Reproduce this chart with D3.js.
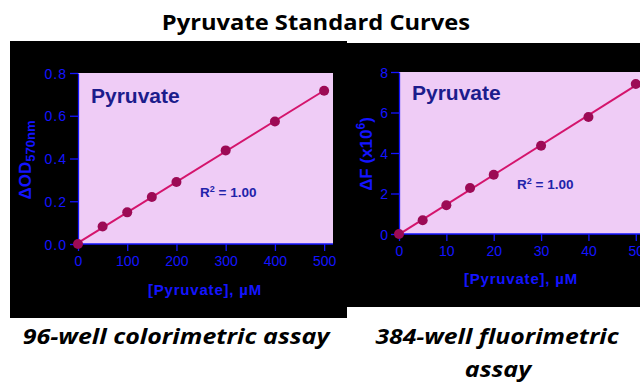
<!DOCTYPE html>
<html>
<head>
<meta charset="utf-8">
<script src="https://cdn.jsdelivr.net/npm/d3@7"></script>
<style>
    body { margin: 0; background: #fff; }
    svg { display: block; }
</style>
</head>
<body>
<div id="chart"></div>
<script>
// Colorimetric assay (96-well)
const colX = [0, 50, 100, 150, 200, 300, 400, 500];
const colY = [0, 0.082, 0.148, 0.22, 0.29, 0.438, 0.573, 0.717];
const colXTicks = [0, 100, 200, 300, 400, 500];
const colYTicks = [0, 0.2, 0.4, 0.6, 0.8];

// Fluorimetric assay (384-well), values x10^6
const fluX = [0, 5, 10, 15, 20, 30, 40, 50];
const fluY = [0, 0.68, 1.42, 2.27, 2.93, 4.36, 5.78, 7.41];
const fluXTicks = [0, 10, 20, 30, 40, 50];
const fluYTicks = [0, 2, 4, 6, 8];

const width = 640, height = 383;

const svg = d3.select("#chart").append("svg")
    .attr("width", width)
    .attr("height", height);

// helper for the slide-style texts (they look stretched sideways)
function wideText(str, cx, y, size, sx, italic) {
    svg.append("text")
        .attr("transform", `translate(${cx},${y}) scale(${sx},1)`)
        .attr("text-anchor", "middle")
        .attr("font-family", "Open Sans, sans-serif")
        .attr("font-weight", "bold")
        .attr("font-style", italic ? "italic" : "normal")
        .attr("font-size", size)
        .text(str);
}

wideText("Pyruvate Standard Curves", 316, 30, 21, 1.13, false);

// black panels behind each plot
svg.append("rect").attr("x", 10).attr("y", 41).attr("width", 337).attr("height", 277).attr("fill", "#000");
svg.append("rect").attr("x", 347).attr("y", 43).attr("width", 293).attr("height", 264).attr("fill", "#000");

function drawPlot(cfg) {
    const x = d3.scaleLinear().domain(cfg.xDomain).range([cfg.left, cfg.right]);
    const y = d3.scaleLinear().domain(cfg.yDomain).range([cfg.bottom, cfg.top]);
    const g = svg.append("g");

    g.append("rect")
        .attr("x", cfg.left)
        .attr("y", cfg.top)
        .attr("width", cfg.right - cfg.left)
        .attr("height", cfg.bottom - cfg.top)
        .attr("fill", "#efccf6");

    const xAxis = g.append("g")
        .attr("transform", `translate(0,${cfg.bottom})`)
        .call(d3.axisBottom(x).tickValues(cfg.xTicks).tickSize(7).tickSizeOuter(0).tickPadding(5));
    const yAxis = g.append("g")
        .attr("transform", `translate(${cfg.left},0)`)
        .call(d3.axisLeft(y).tickValues(cfg.yTicks).tickFormat(cfg.yFormat).tickSize(8).tickSizeOuter(0).tickPadding(3));

    [xAxis, yAxis].forEach(a => {
        a.selectAll("path, line").attr("stroke", "#1414ff").attr("stroke-width", 1.3);
        a.selectAll("text")
            .attr("fill", "#1414ff")
            .attr("font-family", "Liberation Sans, Arial, sans-serif")
            .attr("font-size", 14);
    });
    xAxis.select("path.domain").attr("d", `M${cfg.left},0H${cfg.right}`);
    yAxis.selectAll("text").attr("dy", "0.36em").attr("letter-spacing", cfg.yTickSpacing);

    // fitted line through the standards
    const n = cfg.xs.length;
    const mx = d3.mean(cfg.xs), my = d3.mean(cfg.ys);
    const slope = d3.sum(cfg.xs, (v, i) => (v - mx) * (cfg.ys[i] - my)) / d3.sum(cfg.xs, v => (v - mx) * (v - mx));
    const icpt = my - slope * mx;
    const x0 = cfg.xs[0], x1 = cfg.xs[n - 1];
    g.append("line")
        .attr("x1", x(x0)).attr("y1", y(icpt + slope * x0))
        .attr("x2", x(x1)).attr("y2", y(icpt + slope * x1))
        .attr("stroke", "#d4146c")
        .attr("stroke-width", 2);

    g.selectAll("circle")
        .data(cfg.xs.map((v, i) => [v, cfg.ys[i]]))
        .enter().append("circle")
        .attr("cx", d => x(d[0]))
        .attr("cy", d => y(d[1]))
        .attr("r", 5)
        .attr("fill", "#9c0a55");

    g.append("text")
        .attr("x", cfg.labelX)
        .attr("y", cfg.labelY)
        .attr("fill", "#1c1c8c")
        .attr("font-family", "Liberation Sans, Arial, sans-serif")
        .attr("font-weight", "bold")
        .attr("font-size", 21)
        .text("Pyruvate");

    const r2 = g.append("text")
        .attr("x", cfg.r2X)
        .attr("y", cfg.r2Y)
        .attr("fill", "#2222aa")
        .attr("font-family", "Liberation Sans, Arial, sans-serif")
        .attr("font-weight", "bold")
        .attr("font-size", 13.5);
    r2.append("tspan").text("R");
    r2.append("tspan").attr("dy", -5).attr("font-size", 9).text("2");
    r2.append("tspan").attr("dy", 5).text(" = 1.00");

    g.append("text")
        .attr("x", cfg.xTitleX)
        .attr("y", cfg.xTitleY)
        .attr("text-anchor", "middle")
        .attr("fill", "#1414ff")
        .attr("font-family", "Liberation Sans, Arial, sans-serif")
        .attr("font-weight", "bold")
        .attr("font-size", 15)
        .attr("letter-spacing", 0.8)
        .text("[Pyruvate], \u00b5M");

    const yt = g.append("text")
        .attr("transform", `translate(${cfg.yTitleX},${cfg.yTitleY}) rotate(-90)`)
        .attr("text-anchor", "middle")
        .attr("fill", "#1414ff")
        .attr("font-family", "Liberation Sans, Arial, sans-serif")
        .attr("font-weight", "bold")
        .attr("font-size", 17);
    cfg.yTitle(yt);
}

drawPlot({
    xs: colX, ys: colY,
    xDomain: [0, 518], yDomain: [0, 0.8],
    xTicks: colXTicks, yTicks: colYTicks, yFormat: d3.format(".1f"), yTickSpacing: 1,
    left: 78, right: 333, top: 73, bottom: 244,
    labelX: 91, labelY: 103,
    r2X: 200, r2Y: 197,
    xTitleX: 205, xTitleY: 295,
    yTitleX: 31, yTitleY: 160,
    yTitle: t => {
        t.append("tspan").text("\u0394OD");
        t.append("tspan").attr("dy", 4).attr("font-size", 13).text("570nm");
    }
});

drawPlot({
    xs: fluX, ys: fluY,
    xDomain: [0, 53], yDomain: [0, 8],
    xTicks: fluXTicks, yTicks: fluYTicks, yFormat: d3.format("d"), yTickSpacing: 0,
    left: 399, right: 650, top: 72, bottom: 234,
    labelX: 412, labelY: 100,
    r2X: 517, r2Y: 189,
    xTitleX: 521, xTitleY: 284,
    yTitleX: 372, yTitleY: 154,
    yTitle: t => {
        t.append("tspan").text("\u0394F (x10");
        t.append("tspan").attr("dy", -7).attr("font-size", 12).text("6");
        t.append("tspan").attr("dy", 7).text(")");
    }
});

wideText("96-well colorimetric assay", 176, 344, 21, 1.19, true);
wideText("384-well fluorimetric", 497, 344, 21, 1.18, true);
wideText("assay", 498, 377, 21, 1.19, true);
</script>
</body>
</html>
